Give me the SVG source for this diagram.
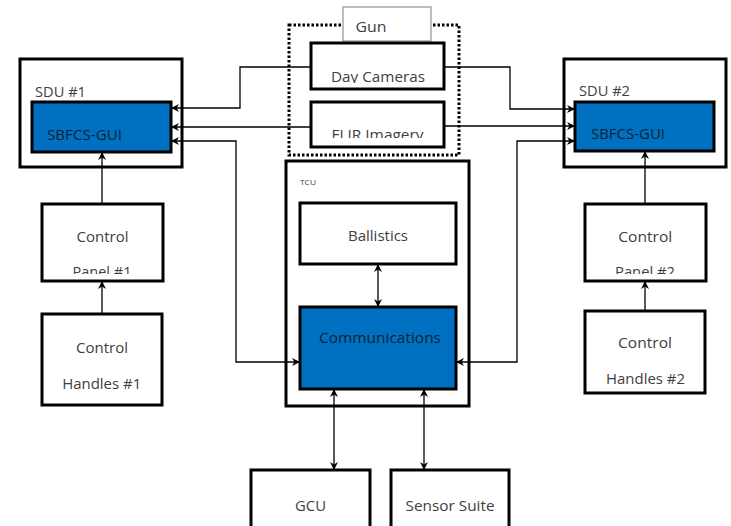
<svg xmlns="http://www.w3.org/2000/svg" width="731" height="526" viewBox="0 0 731 526">
<style>
.box{fill:#fff;stroke:#000;stroke-width:3}
.blue{fill:#0070C0;stroke:#000;stroke-width:3}
.t{font-family:"Open Sans","Noto Sans",sans-serif;font-size:15px;fill:#404040}
.tb{font-family:"Open Sans","Noto Sans",sans-serif;font-size:15px;fill:#0d2236}
.c{text-anchor:middle}
.ln{fill:none;stroke:#000;stroke-width:1.3}
</style>
<defs>
<marker id="ah" viewBox="0 0 10 10" refX="10" refY="5" markerWidth="9" markerHeight="8" markerUnits="userSpaceOnUse" orient="auto-start-reverse">
<path d="M0,0 L10,5 L0,10 L3,5 z" fill="#000"/>
</marker>
<clipPath id="cDay"><rect x="313" y="45" width="129" height="38"/></clipPath>
<clipPath id="cFlir"><rect x="313" y="104" width="129" height="34"/></clipPath>
<clipPath id="cP1"><rect x="44" y="206" width="117" height="68"/></clipPath>
<clipPath id="cP2"><rect x="587" y="206" width="117" height="68"/></clipPath>
</defs>

<g id="gun">
<rect x="289" y="25" width="170" height="130" fill="none" stroke="#000" stroke-width="3" stroke-dasharray="2.5 2"/>
<rect x="343" y="7" width="88" height="34" fill="#fff" stroke="#7f7f7f" stroke-width="1"/>
<text class="t c" x="371" y="32" textLength="31" lengthAdjust="spacingAndGlyphs">Gun</text>
</g>

<g id="day-cameras">
<rect class="box" x="311" y="43" width="133" height="46"/>
<text class="t c" x="378" y="82" textLength="94" lengthAdjust="spacingAndGlyphs" clip-path="url(#cDay)">Day Cameras</text>
</g>

<g id="flir">
<rect class="box" x="311" y="102" width="133" height="45"/>
<text class="t c" x="377.5" y="139.5" textLength="92" lengthAdjust="spacingAndGlyphs" clip-path="url(#cFlir)">FLIR Imagery</text>
</g>

<g id="sdu1">
<rect class="box" x="20" y="59" width="162" height="108"/>
<text class="t" x="35" y="97" textLength="51" lengthAdjust="spacingAndGlyphs">SDU #1</text>
<rect class="blue" x="32" y="102" width="139" height="50"/>
<text class="tb" x="47" y="140" textLength="75" lengthAdjust="spacingAndGlyphs">SBFCS-GUI</text>
</g>

<g id="sdu2">
<rect class="box" x="564" y="59" width="162" height="108"/>
<text class="t" x="579" y="96" textLength="51" lengthAdjust="spacingAndGlyphs">SDU #2</text>
<rect class="blue" x="575" y="102" width="139" height="49"/>
<text class="tb" x="591" y="139" textLength="74" lengthAdjust="spacingAndGlyphs">SBFCS-GUI</text>
</g>

<g id="tcu">
<rect class="box" x="286" y="161" width="183" height="245"/>
<text x="300" y="185" font-family="'Open Sans','Noto Sans',sans-serif" font-size="8" fill="#404040" textLength="16" lengthAdjust="spacingAndGlyphs">TCU</text>
</g>

<g id="ballistics">
<rect class="box" x="300" y="203" width="156" height="61"/>
<text class="t c" x="378" y="241" textLength="60" lengthAdjust="spacingAndGlyphs">Ballistics</text>
</g>

<g id="communications">
<rect class="blue" x="300" y="307" width="156" height="82"/>
<text class="tb" x="319" y="343" textLength="122" lengthAdjust="spacingAndGlyphs">Communications</text>
</g>

<g id="control-panel-1">
<rect class="box" x="42" y="204" width="121" height="77"/>
<text class="t c" x="102.5" y="242" textLength="52" lengthAdjust="spacingAndGlyphs">Control</text>
<text class="t c" x="102" y="277" textLength="59" lengthAdjust="spacingAndGlyphs" clip-path="url(#cP1)">Panel #1</text>
</g>

<g id="control-handles-1">
<rect class="box" x="42" y="314" width="120" height="91"/>
<text class="t c" x="102" y="353" textLength="52" lengthAdjust="spacingAndGlyphs">Control</text>
<text class="t c" x="101.7" y="389" textLength="79" lengthAdjust="spacingAndGlyphs">Handles #1</text>
</g>

<g id="control-panel-2">
<rect class="box" x="585" y="204" width="121" height="77"/>
<text class="t c" x="645.3" y="242" textLength="54" lengthAdjust="spacingAndGlyphs">Control</text>
<text class="t c" x="645" y="277" textLength="60" lengthAdjust="spacingAndGlyphs" clip-path="url(#cP2)">Panel #2</text>
</g>

<g id="control-handles-2">
<rect class="box" x="585" y="311" width="120" height="82"/>
<text class="t c" x="645" y="348" textLength="54" lengthAdjust="spacingAndGlyphs">Control</text>
<text class="t c" x="645.5" y="384" textLength="79" lengthAdjust="spacingAndGlyphs">Handles #2</text>
</g>

<g id="gcu">
<rect class="box" x="251" y="470" width="119" height="70"/>
<text class="t c" x="310.5" y="511" textLength="31" lengthAdjust="spacingAndGlyphs">GCU</text>
</g>

<g id="sensor-suite">
<rect class="box" x="391" y="470" width="118" height="70"/>
<text class="t c" x="450" y="511" textLength="89" lengthAdjust="spacingAndGlyphs">Sensor Suite</text>
</g>

<g id="connectors">
<path class="ln" d="M311,67 H240 V108 H171" marker-end="url(#ah)"/>
<path class="ln" d="M311,127 H171" marker-end="url(#ah)"/>
<path class="ln" d="M300,362 H236 V141 H171" marker-start="url(#ah)" marker-end="url(#ah)"/>
<path class="ln" d="M444,67 H510 V109 H575" marker-end="url(#ah)"/>
<path class="ln" d="M444,126 H575" marker-end="url(#ah)"/>
<path class="ln" d="M456,362 H517 V141 H575" marker-start="url(#ah)" marker-end="url(#ah)"/>
<path class="ln" d="M378,264 V307" marker-start="url(#ah)" marker-end="url(#ah)"/>
<path class="ln" d="M334,389 V470" marker-start="url(#ah)" marker-end="url(#ah)"/>
<path class="ln" d="M424,389 V470" marker-start="url(#ah)" marker-end="url(#ah)"/>
<path class="ln" d="M102,204 V152" marker-end="url(#ah)"/>
<path class="ln" d="M102,314 V281" marker-end="url(#ah)"/>
<path class="ln" d="M645,204 V151" marker-end="url(#ah)"/>
<path class="ln" d="M645,311 V281" marker-end="url(#ah)"/>
</g>
</svg>
